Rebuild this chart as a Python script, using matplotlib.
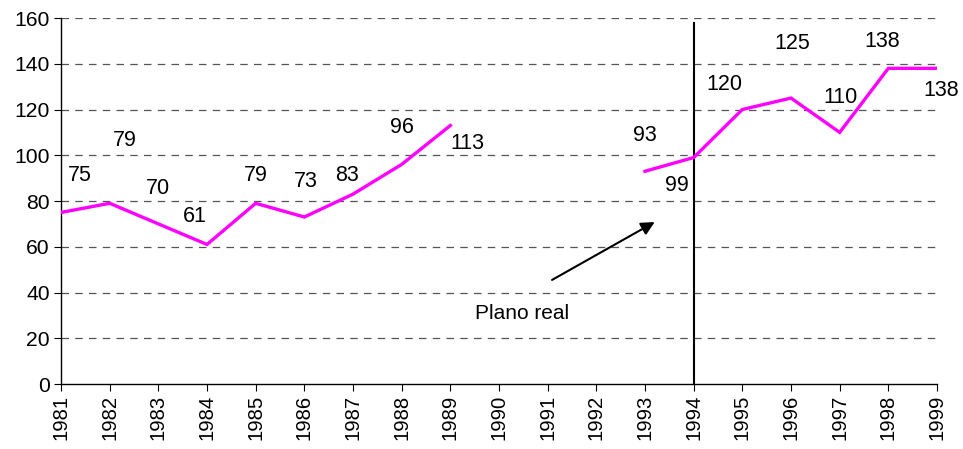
import numpy as np
import matplotlib
matplotlib.use("Agg")
import matplotlib.pyplot as plt

plt.rcParams['font.family'] = ['Liberation Sans', 'DejaVu Sans']

years = list(range(1981, 2000))
values = [75, 79, 70, 61, 79, 73, 83, 96, 113, np.nan, np.nan, np.nan,
          93, 99, 120, 125, 110, 138, 138]
# label offsets in pixels (dx, dy) relative to each point
label_dx = [19, 15, 0, -12, 0, 1, -6, 0, 17, 0, 0, 0, 0, -17, -18, 1, 1, -6, 4]
label_dy = [37, 63, 35, 28, 28, 36, 19, 37, -18, 0, 0, 0, 36, -28, 25, 55, 35, 27, -22]
y_ticks = [0, 20, 40, 60, 80, 100, 120, 140, 160]
event_year = 1994
event_text = "Plano real"

fig = plt.figure(figsize=(9.63, 4.49), dpi=100)
ax = fig.add_axes([61/963, 1-384/449, (937-61)/963, (384-18)/449])

ax.plot(years, values, color='#FF00FF', lw=2.4, solid_joinstyle='miter', zorder=3)

for x, v, dx, dy in zip(years, values, label_dx, label_dy):
    if np.isnan(v):
        continue
    ax.annotate(f"{v:.0f}", (x, v), xytext=(dx, dy), textcoords='offset pixels',
                ha='center', va='center', fontsize=15.5, color='black')

ax.set_xlim(years[0], years[-1])
ax.set_ylim(y_ticks[0], y_ticks[-1])
ax.set_yticks(y_ticks)
ax.set_xticks(years)
ax.set_xticklabels([str(y) for y in years], rotation=90, fontsize=14.6)
ax.tick_params(axis='y', labelsize=15.2, length=5, direction='out', width=0.8, pad=3)
ax.tick_params(axis='x', length=5, direction='out', width=0.8, pad=3)

for t in y_ticks[1:]:
    ax.axhline(t, color='#555555', lw=0.9, ls=(0, (6, 5)), zorder=1)

ax.spines['top'].set_visible(False)
ax.spines['right'].set_visible(False)
ax.spines['left'].set_linewidth(1.0)
ax.spines['bottom'].set_linewidth(1.0)

ax.plot([event_year, event_year], [0, 158], color='black', lw=1.5, zorder=2)

ax.annotate("", xy=(1993.2, 70.8), xytext=(1991.09, 45.5),
            arrowprops=dict(arrowstyle='-|>', color='black', lw=1.5,
                            mutation_scale=20, shrinkA=0, shrinkB=0))
ax.text(1990.47, 31.0, event_text, ha='center', va='center', fontsize=15)

fig.savefig("out.png", dpi=100)
